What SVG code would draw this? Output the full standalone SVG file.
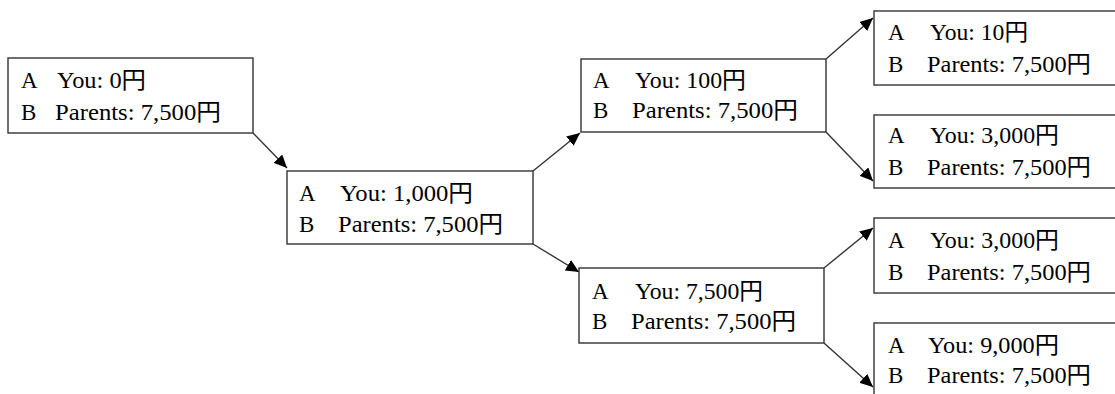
<svg xmlns="http://www.w3.org/2000/svg" width="1115" height="394" viewBox="0 0 1115 394">
<style>
.box{fill:#fff;stroke:#333;stroke-width:1.4}
.t{font-family:"Liberation Serif","Noto Sans CJK JP",serif;font-size:23px;fill:#000}
.c{fill:none;stroke:#333;stroke-width:1.4}
</style>
<defs>
<marker id="ah" markerUnits="userSpaceOnUse" markerWidth="14" markerHeight="12" viewBox="0 0 14 12" refX="13" refY="6" orient="auto">
<path d="M0,0 L13,6 L0,12 Z" fill="#000"/>
</marker>
</defs>
<rect width="1115" height="394" fill="#fff"/>
<g id="connectors">
<line class="c" x1="253" y1="133" x2="287" y2="168" marker-end="url(#ah)"/>
<line class="c" x1="533" y1="171" x2="580" y2="133" marker-end="url(#ah)"/>
<line class="c" x1="533" y1="244" x2="579" y2="272" marker-end="url(#ah)"/>
<line class="c" x1="826" y1="59" x2="873" y2="18" marker-end="url(#ah)"/>
<line class="c" x1="826" y1="132" x2="873" y2="181" marker-end="url(#ah)"/>
<line class="c" x1="824" y1="268" x2="873" y2="228" marker-end="url(#ah)"/>
<line class="c" x1="824" y1="343" x2="873" y2="387" marker-end="url(#ah)"/>
</g>
<g id="n1">
<rect class="box" x="8" y="58" width="245" height="75"/>
<text class="t" x="21" y="88">A</text><text class="t" x="57" y="88" textLength="89" lengthAdjust="spacingAndGlyphs">You: 0円</text>
<text class="t" x="21" y="120">B</text><text class="t" x="55" y="120" textLength="166" lengthAdjust="spacingAndGlyphs">Parents: 7,500円</text>
</g>
<g id="n2">
<rect class="box" x="287" y="171" width="246" height="73"/>
<text class="t" x="299" y="201">A</text><text class="t" x="340" y="201" textLength="133" lengthAdjust="spacingAndGlyphs">You: 1,000円</text>
<text class="t" x="299" y="232">B</text><text class="t" x="338" y="232" textLength="165" lengthAdjust="spacingAndGlyphs">Parents: 7,500円</text>
</g>
<g id="n3">
<rect class="box" x="581" y="59" width="245" height="73"/>
<text class="t" x="593" y="88">A</text><text class="t" x="635" y="88" textLength="111" lengthAdjust="spacingAndGlyphs">You: 100円</text>
<text class="t" x="593" y="118">B</text><text class="t" x="632" y="118" textLength="166" lengthAdjust="spacingAndGlyphs">Parents: 7,500円</text>
</g>
<g id="n4">
<rect class="box" x="579" y="268" width="245" height="75"/>
<text class="t" x="592" y="299">A</text><text class="t" x="635" y="299" textLength="128" lengthAdjust="spacingAndGlyphs">You: 7,500円</text>
<text class="t" x="592" y="329">B</text><text class="t" x="631" y="329" textLength="165" lengthAdjust="spacingAndGlyphs">Parents: 7,500円</text>
</g>
<g id="n5">
<rect class="box" x="874" y="11" width="250" height="74"/>
<text class="t" x="888" y="40">A</text><text class="t" x="930" y="40" textLength="98" lengthAdjust="spacingAndGlyphs">You: 10円</text>
<text class="t" x="888" y="72">B</text><text class="t" x="927" y="72" textLength="164" lengthAdjust="spacingAndGlyphs">Parents: 7,500円</text>
</g>
<g id="n6">
<rect class="box" x="874" y="115" width="250" height="73"/>
<text class="t" x="888" y="143">A</text><text class="t" x="930" y="143" textLength="129" lengthAdjust="spacingAndGlyphs">You: 3,000円</text>
<text class="t" x="888" y="175">B</text><text class="t" x="927" y="175" textLength="164" lengthAdjust="spacingAndGlyphs">Parents: 7,500円</text>
</g>
<g id="n7">
<rect class="box" x="874" y="218" width="250" height="75"/>
<text class="t" x="888" y="248">A</text><text class="t" x="930" y="248" textLength="129" lengthAdjust="spacingAndGlyphs">You: 3,000円</text>
<text class="t" x="888" y="280">B</text><text class="t" x="927" y="280" textLength="164" lengthAdjust="spacingAndGlyphs">Parents: 7,500円</text>
</g>
<g id="n8">
<rect class="box" x="874" y="323" width="250" height="80"/>
<text class="t" x="888" y="353">A</text><text class="t" x="928" y="353" textLength="131" lengthAdjust="spacingAndGlyphs">You: 9,000円</text>
<text class="t" x="888" y="383">B</text><text class="t" x="927" y="383" textLength="164" lengthAdjust="spacingAndGlyphs">Parents: 7,500円</text>
</g>
</svg>
